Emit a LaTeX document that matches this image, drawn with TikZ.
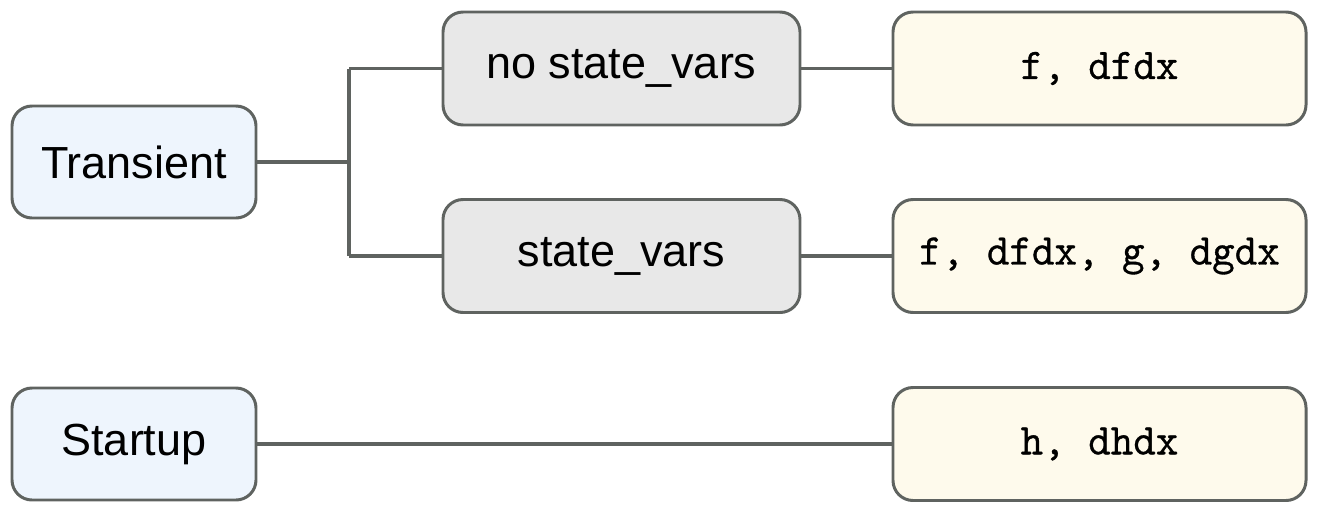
\documentclass[tikz,border=0pt]{standalone}
\usepackage{fontspec}
\setmainfont{Liberation Sans}
\newfontfamily\codefont{Latin Modern Mono}[FakeBold=0.8]
\definecolor{edgegray}{HTML}{5F6360}
\definecolor{modeblue}{HTML}{EEF5FD}
\definecolor{casegray}{HTML}{E8E8E8}
\definecolor{funcyellow}{HTML}{FEFAEC}
\tikzstyle{box}=[draw=edgegray,line width=1.7pt,rounded corners=0.4cm,inner sep=0pt,font=\fontsize{25.6}{30}\selectfont]
\tikzstyle{mode}=[box,fill=modeblue,minimum width=4.88cm,minimum height=2.24cm]
\tikzstyle{case}=[box,fill=casegray,minimum width=7.14cm,minimum height=2.26cm]
\tikzstyle{funcs}=[box,fill=funcyellow,minimum width=8.26cm,minimum height=2.26cm,font=\fontsize{24.9}{30}\selectfont\codefont]
\tikzstyle{link}=[draw=edgegray,line width=1.8pt]
\begin{document}
\begin{tikzpicture}
	\useasboundingbox (0,0) rectangle (26.34,-10.16);
	\node (transient) [mode] at (2.68,-3.24) {Transient};
	\node (startup) [mode] at (2.68,-8.88) {Startup};
	\node (nostate) [case] at (12.43,-1.37) {no state\_vars};
	\node (state) [case] at (12.43,-5.12) {state\_vars};
	\node (fdfdx) [funcs] at (21.99,-1.37) {f, dfdx};
	\node (fgall) [funcs] at (21.99,-5.12) {f, dfdx, g, dgdx};
	\node (hdhdx) [funcs] at (21.99,-8.88) {h, dhdx};
	\coordinate (split) at (6.98,-3.24);
	\draw [link] (transient) -- (split)
	(split |- nostate) -- (nostate)
	(split |- state) -- (state)
	(split |- nostate) -- (split |- state);
	\draw [link] (nostate) -- (fdfdx);
	\draw [link] (state) -- (fgall);
	\draw [link] (startup) -- (hdhdx);
\end{tikzpicture}
\end{document}
